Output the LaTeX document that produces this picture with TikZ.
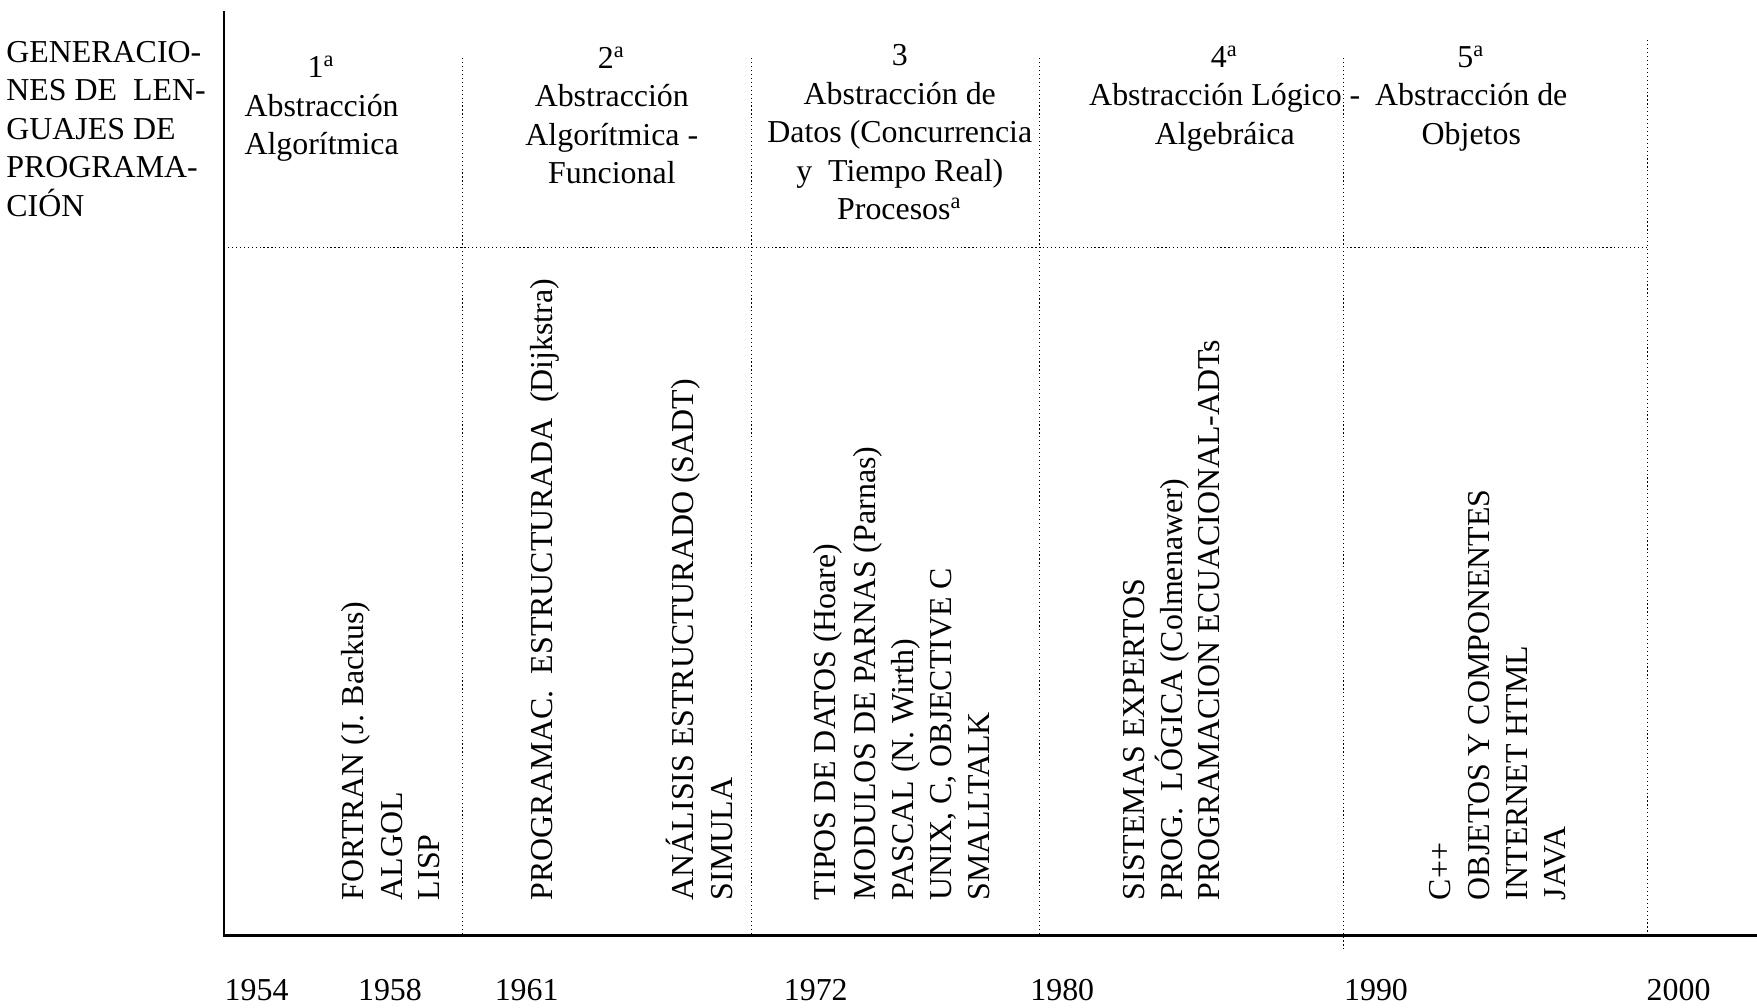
\documentclass[tikz,border=0pt]{standalone}
\usepackage{fontspec}
\setmainfont{Liberation Serif}
\begin{document}
\begin{tikzpicture}[
  txt/.style={inner sep=0pt, font=\fontsize{8.1}{9.8}\selectfont},
  hdr/.style={txt, align=center},
  lang/.style={txt, rotate=90, anchor=base west},
  year/.style={txt},
  sep/.style={line width=0.3pt, dash pattern=on 0.3pt off 0.7pt},
  axis/.style={line width=0.6pt}]
\useasboundingbox (0,0) rectangle (15.68,8.99);
\coordinate (top) at (2,8.89);
\coordinate (O) at (2,0.64);
\coordinate (end) at (15.68,0.64);
\draw[axis] (top)--(O)--(end);
\draw[sep] (2,6.78)--(14.70,6.78);
\draw[sep] (4.13,8.47)--(4.13,0.64);
\draw[sep] (6.71,8.47)--(6.71,0.64);
\draw[sep] (9.28,8.47)--(9.28,0.64);
\draw[sep] (11.99,8.47)--(11.99,0.51);
\draw[sep] (14.70,8.63)--(14.70,0.64);
\node[txt, align=left, anchor=west] (gen) at (0.05,7.84)
  {GENERACIO-\\NES DE\ \ LEN-\\GUAJES DE\\PROGRAMA-\\CIÓN};
\node[hdr] (g1) at (2.87,8.02) {1\textsuperscript{a}\\Abstracción\\Algorítmica};
\node[hdr] (g2) at (5.46,7.96) {2\textsuperscript{a}\\Abstracción\\Algorítmica -\\Funcional};
\node[hdr] (g3) at (8.03,7.81) {3\\Abstracción de\\Datos (Concurrencia\\y\ \ Tiempo Real)\\Procesos\textsuperscript{a}};
\node[hdr] (g4) at (10.93,8.11) {4\textsuperscript{a}\\Abstracción Lógico -\\Algebráica};
\node[hdr] (g5) at (13.13,8.11) {5\textsuperscript{a}\\Abstracción de\\Objetos};
\node[lang] (fortran) at (3.24,0.95) {FORTRAN (J. Backus)};
\node[lang] (algol) at (3.59,0.95) {ALGOL};
\node[lang] (lisp) at (3.92,0.95) {LISP};
\node[lang] (prog) at (4.93,0.95) {PROGRAMAC.\ \ ESTRUCTURADA\ \ (Dijkstra)};
\node[lang] (sadt) at (6.19,0.95) {ANÁLISIS ESTRUCTURADO (SADT)};
\node[lang] (simula) at (6.54,0.95) {SIMULA};
\node[lang] (tipos) at (7.46,0.95) {TIPOS DE DATOS (Hoare)};
\node[lang] (modulos) at (7.81,0.95) {MODULOS DE PARNAS (Parnas)};
\node[lang] (pascal) at (8.15,0.95) {PASCAL (N. Wirth)};
\node[lang] (unix) at (8.49,0.95) {UNIX, C, OBJECTIVE C};
\node[lang] (smalltalk) at (8.83,0.95) {SMALLTALK};
\node[lang] (expertos) at (10.21,0.95) {SISTEMAS EXPERTOS};
\node[lang] (logica) at (10.55,0.95) {PROG.\ \ LÓGICA (Colmenawer)};
\node[lang] (adts) at (10.88,0.95) {PROGRAMACION ECUACIONAL-ADTs};
\node[lang] (cpp) at (12.94,0.95) {C++};
\node[lang] (objetos) at (13.29,0.95) {OBJETOS Y COMPONENTES};
\node[lang] (html) at (13.63,0.95) {INTERNET HTML};
\node[lang] (java) at (13.97,0.95) {JAVA};
\node[year] (y54) at (2.29,0.15) {1954};
\node[year] (y58) at (3.48,0.15) {1958};
\node[year] (y61) at (4.70,0.15) {1961};
\node[year] (y72) at (7.28,0.15) {1972};
\node[year] (y80) at (9.48,0.15) {1980};
\node[year] (y90) at (12.28,0.15) {1990};
\node[year] (y00) at (14.98,0.15) {2000};
\end{tikzpicture}
\end{document}
